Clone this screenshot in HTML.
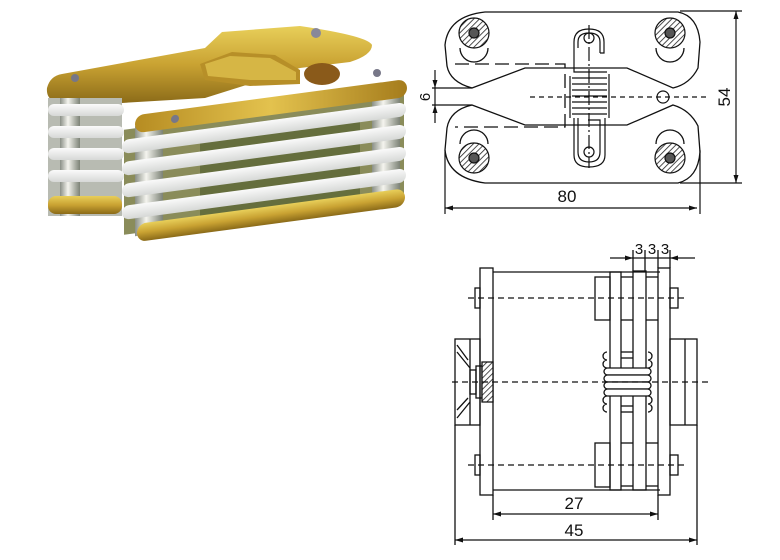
<!DOCTYPE html>
<html><head><meta charset="utf-8"><style>
html,body{margin:0;padding:0;background:#fff;}
svg{display:block;}
text{font-family:"Liberation Sans",sans-serif;fill:#111;}
</style></head><body>
<svg width="780" height="560" viewBox="0 0 780 560" xmlns="http://www.w3.org/2000/svg">
<defs>
<pattern id="h" patternUnits="userSpaceOnUse" width="4" height="4" patternTransform="rotate(45)">
<rect width="4" height="4" fill="#fff"/><line x1="0" y1="0" x2="0" y2="4" stroke="#222" stroke-width="1.6"/></pattern>
<linearGradient id="gold" x1="0" y1="0" x2="0" y2="1"><stop offset="0" stop-color="#e8cf5a"/><stop offset=".5" stop-color="#c9a232"/><stop offset="1" stop-color="#8a6a18"/></linearGradient>
<linearGradient id="gold2" x1="0" y1="0" x2="1" y2="0"><stop offset="0" stop-color="#b68c22"/><stop offset=".5" stop-color="#e3c24e"/><stop offset="1" stop-color="#a57c1c"/></linearGradient>
<linearGradient id="silv" x1="0" y1="0" x2="1" y2="0"><stop offset="0" stop-color="#8a8f86"/><stop offset=".4" stop-color="#f4f4ee"/><stop offset="1" stop-color="#7c8276"/></linearGradient>
<linearGradient id="wh" x1="0" y1="0" x2="0" y2="1"><stop offset="0" stop-color="#fafafa"/><stop offset="1" stop-color="#d6d8d6"/></linearGradient>
</defs>

<!-- PHOTO -->
<g>
<path d="M47,88 Q50,76 62,74 L205,48 L222,32 L300,26 Q368,36 372,45 Q372,55 350,62 L300,68 L205,98 L105,104 L55,102 Q46,98 47,88Z" fill="url(#gold)"/>
<rect x="48" y="98" width="74" height="118" fill="#b8bbb2"/>
<rect x="60" y="98" width="20" height="118" fill="url(#silv)"/>
<rect x="48" y="104" width="76" height="12" rx="6" fill="url(#wh)"/>
<rect x="48" y="126" width="76" height="12" rx="6" fill="url(#wh)"/>
<rect x="48" y="148" width="76" height="12" rx="6" fill="url(#wh)"/>
<rect x="48" y="170" width="76" height="12" rx="6" fill="url(#wh)"/>
<rect x="48" y="196" width="74" height="18" rx="8" fill="url(#gold)"/>
<path d="M200,64 L232,52 L275,55 L300,70 L300,84 L250,86 L205,80Z" fill="#b78f28"/>
<path d="M205,64 L230,56 L270,58 L296,72 L296,80 L250,80 L208,76Z" fill="#d6b645"/>
<ellipse cx="322" cy="74" rx="18" ry="11" fill="#8a5a1a"/>
<circle cx="316" cy="33" r="5" fill="#889"/>
<circle cx="75" cy="78" r="4" fill="#778"/>
<circle cx="377" cy="73" r="4" fill="#778"/>
<g transform="translate(122,0) skewY(-7.6) translate(-122,0)">
<rect x="124" y="130" width="280" height="105" fill="#8a8c5a"/>
<rect x="200" y="140" width="160" height="90" fill="#4d5a2a" opacity=".6"/>
<rect x="135" y="128" width="28" height="110" fill="url(#silv)"/>
<rect x="372" y="128" width="28" height="110" fill="url(#silv)"/>
<rect x="122" y="140" width="284" height="14" rx="7" fill="url(#wh)"/>
<rect x="122" y="162" width="284" height="14" rx="7" fill="url(#wh)"/>
<rect x="122" y="184" width="284" height="14" rx="7" fill="url(#wh)"/>
<rect x="122" y="206" width="284" height="14" rx="7" fill="url(#wh)"/>
<rect x="137" y="226" width="268" height="18" rx="9" fill="url(#gold)"/>
<rect x="135" y="117" width="272" height="18" rx="9" fill="url(#gold2)"/>
<circle cx="175" cy="126" r="4" fill="#778"/>
</g>
</g>

<!-- TOP DRAWING -->
<g fill="none" stroke="#111" stroke-width="1.3">
<path d="M472,88 L525,68 L627,68 L673,88 Q690,84 698,68 L700,42 Q698,16 678,12 L485,12 Q448,16 445,45 L447,66 Q450,82 472,88Z"/>
<path d="M472,105 L525,125 L627,125 L673,105 Q690,110 698,126 L700,152 Q698,178 678,183 L485,183 Q448,178 445,150 L447,128 Q450,110 472,105Z"/>
<path d="M455,64 L565,64 L565,127 L455,127" stroke-dasharray="14,6"/>
<path d="M460,48 A13,13 0 0 0 488,48"/>
<path d="M460,144 A13,13 0 0 1 488,144"/>
<path d="M656,48 A13,13 0 0 0 684,48"/>
<path d="M656,144 A13,13 0 0 1 684,144"/>
</g>
<g stroke="#111" stroke-width="1.2">
<circle cx="474" cy="33" r="15" fill="url(#h)"/><circle cx="474" cy="33" r="5" fill="#555"/>
<circle cx="670" cy="33" r="15" fill="url(#h)"/><circle cx="670" cy="33" r="5" fill="#555"/>
<circle cx="474" cy="158" r="15" fill="url(#h)"/><circle cx="474" cy="158" r="5" fill="#555"/>
<circle cx="670" cy="158" r="15" fill="url(#h)"/><circle cx="670" cy="158" r="5" fill="#555"/>
</g>
<g fill="none" stroke="#111" stroke-width="1.2">
<path d="M600,53 L604,53 L604,42 Q604,29 589,29 Q574,29 574,42 L574,72 L607,72"/>
<path d="M578,48 L578,42 Q578,33 589,33 Q600,33 600,42 L600,53"/>
<path d="M574,118 L574,155 Q574,167 589,167 Q605,167 605,155 L605,118"/>
<path d="M578,118 L578,152 Q578,162 589,162 Q600,162 600,152 L600,120 L588,120"/>
<path d="M572,78h35 M572,84h35 M572,90h35 M572,96h35 M572,102h35 M572,108h35 M572,114h35"/>
<path d="M570,76 v42 M609,74 v44"/>
<circle cx="589" cy="38" r="5"/><circle cx="589" cy="152" r="5"/>
<circle cx="663" cy="97" r="6"/>
<line x1="530" y1="97" x2="706" y2="97" stroke-dasharray="5,4"/>
<line x1="589" y1="25" x2="589" y2="168" stroke-dasharray="14,3,2,3"/>
<line x1="445" y1="150" x2="445" y2="214"/><line x1="700" y1="150" x2="700" y2="214"/>
<line x1="445" y1="208" x2="697" y2="208"/>
<line x1="680" y1="11" x2="742" y2="11"/><line x1="680" y1="183" x2="742" y2="183"/>
<line x1="736" y1="11" x2="736" y2="183"/>
<line x1="432" y1="88" x2="472" y2="88"/><line x1="432" y1="105" x2="472" y2="105"/>
<line x1="435" y1="70" x2="435" y2="123"/>
</g>
<g fill="#111">
<path d="M445,208 l8,-2.5 v5z M697,208 l-8,-2.5 v5z M736,11 l-2.5,8 h5z M736,183 l-2.5,-8 h5z M435,88 l-2.5,-8 h5z M435,105 l-2.5,8 h5z"/>
</g>
<text x="567" y="202" font-size="17" text-anchor="middle">80</text>
<text x="0" y="0" font-size="17" text-anchor="middle" transform="translate(730,97) rotate(-90)">54</text>
<text x="0" y="0" font-size="15" text-anchor="middle" transform="translate(430,97) rotate(-90)">6</text>

<!-- BOTTOM DRAWING -->
<g fill="none" stroke="#111" stroke-width="1.3">
<rect x="480" y="268" width="13" height="227"/>
<line x1="493" y1="272" x2="660" y2="272"/>
<line x1="493" y1="490" x2="660" y2="490"/>
<rect x="610" y="272" width="11" height="218"/>
<rect x="633" y="271" width="13" height="219"/>
<rect x="658" y="268" width="12" height="227"/>
<line x1="621" y1="277" x2="633" y2="277"/><line x1="646" y1="277" x2="658" y2="277"/>
<line x1="621" y1="320" x2="633" y2="320"/><line x1="646" y1="320" x2="658" y2="320"/>
<line x1="621" y1="443" x2="633" y2="443"/><line x1="646" y1="443" x2="658" y2="443"/>
<line x1="621" y1="486" x2="633" y2="486"/><line x1="646" y1="486" x2="658" y2="486"/>
<line x1="621" y1="352" x2="633" y2="352"/><line x1="621" y1="358" x2="633" y2="358"/>
<line x1="621" y1="406" x2="633" y2="406"/><line x1="621" y1="412" x2="633" y2="412"/>
<rect x="595" y="277" width="15" height="43"/><rect x="595" y="443" width="15" height="44"/>
<rect x="670" y="288" width="8" height="20"/><rect x="670" y="455" width="8" height="20"/>
<rect x="475" y="288" width="5" height="20"/><rect x="475" y="455" width="5" height="20"/>
<rect x="670" y="339" width="27" height="86"/><line x1="685" y1="339" x2="685" y2="425"/>
<rect x="455" y="339" width="25" height="86"/><line x1="470" y1="339" x2="470" y2="425"/>
<rect x="470" y="370" width="6" height="24"/><rect x="476" y="366" width="6" height="32"/>
<path d="M482,362 h11 v40 h-11z" fill="url(#h)"/>
<path d="M457,345 L468,360 M457,352 L470,368 M457,410 L468,398 M457,418 L470,402"/>
<path d="M607,352 a4,4 0 1 0 0,8 a4,4 0 1 0 0,8 M607,396 a4,4 0 1 0 0,8 a4,4 0 1 0 0,8 M648,352 a4,4 0 1 1 0,8 a4,4 0 1 1 0,8 M648,396 a4,4 0 1 1 0,8 a4,4 0 1 1 0,8"/>
<rect x="604" y="368" width="47" height="7" rx="3.5" fill="#fff"/>
<rect x="604" y="375" width="47" height="7" rx="3.5" fill="#fff"/>
<rect x="604" y="382" width="47" height="7" rx="3.5" fill="#fff"/>
<rect x="604" y="389" width="47" height="7" rx="3.5" fill="#fff"/>
<line x1="452" y1="382" x2="710" y2="382" stroke-dasharray="6,4"/>
<line x1="468" y1="298" x2="685" y2="298" stroke-dasharray="6,4"/>
<line x1="468" y1="465" x2="685" y2="465" stroke-dasharray="6,4"/>
<line x1="455" y1="425" x2="455" y2="545"/><line x1="697" y1="425" x2="697" y2="545"/>
<line x1="493" y1="495" x2="493" y2="520"/><line x1="658" y1="495" x2="658" y2="520"/>
<line x1="493" y1="514" x2="658" y2="514"/>
<line x1="455" y1="540" x2="697" y2="540"/>
<line x1="610" y1="258" x2="695" y2="258"/>
<line x1="633" y1="250" x2="633" y2="271"/><line x1="645" y1="250" x2="645" y2="271"/>
<line x1="658" y1="250" x2="658" y2="268"/><line x1="670" y1="250" x2="670" y2="268"/>
</g>
<g fill="#111">
<path d="M493,514 l8,-2.5 v5z M658,514 l-8,-2.5 v5z M455,540 l8,-2.5 v5z M697,540 l-8,-2.5 v5z M633,258 l-8,-2.5 v5z M670,258 l8,-2.5 v5z"/>
</g>
<text x="574" y="509" font-size="17" text-anchor="middle">27</text>
<text x="574" y="536" font-size="17" text-anchor="middle">45</text>
<text x="639" y="254" font-size="15" text-anchor="middle">3</text>
<text x="652" y="254" font-size="15" text-anchor="middle">3</text>
<text x="665" y="254" font-size="15" text-anchor="middle">3</text>
</svg>
</body></html>
